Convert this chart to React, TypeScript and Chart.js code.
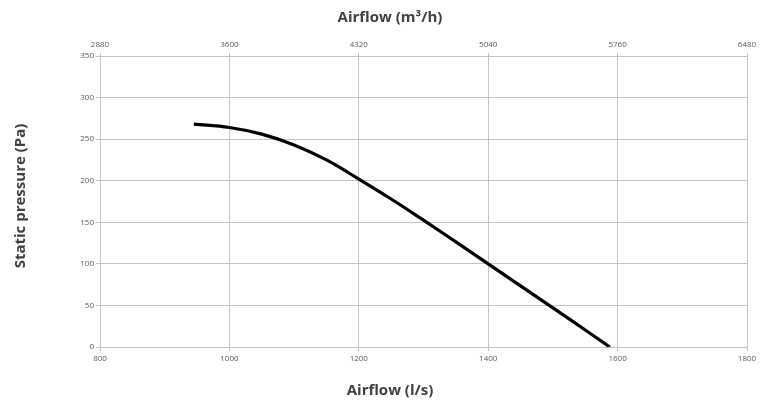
import React, { useEffect, useRef } from "react";
import { Chart, registerables } from "chart.js";

Chart.register(...registerables);

const airflowLs: number[] = [945, 1000, 1050, 1100, 1150, 1200, 1250, 1300, 1350, 1400, 1450, 1500, 1550, 1588];
const pressurePa: number[] = [268, 264, 256, 243, 225, 202, 178, 152.5, 126.5, 100, 73.5, 47, 20.5, 0];

const xMin = 800;
const xMax = 1800;
const xStep = 200;
const yMin = 0;
const yMax = 350;
const yStep = 50;
const m3hFactor = 3.6;

const bottomTitle = "Airflow (l/s)";
const topTitle = "Airflow (m³/h)";
const leftTitle = "Static pressure (Pa)";

const gridColor = "#c4c4c4";
const tickColor = "#595959";
const titleColor = "#404040";
const fontFamily = "'Open Sans', 'Liberation Sans', sans-serif";

const titlePlugin = {
  id: "axisTitles",
  afterDraw(chart: any) {
    const ctx = chart.ctx;
    ctx.save();
    ctx.fillStyle = titleColor;
    ctx.font = `bold 15px ${fontFamily}`;
    ctx.textAlign = "center";
    ctx.textBaseline = "middle";
    ctx.fillText(topTitle, 390, 18);
    ctx.fillText(bottomTitle, 390, 391);
    ctx.translate(21, 196);
    ctx.rotate(-Math.PI / 2);
    ctx.fillText(leftTitle, 0, 0);
    ctx.restore();
  },
};

export default function App() {
  const canvasRef = useRef<HTMLCanvasElement | null>(null);

  useEffect(() => {
    document.body.style.margin = "0";
    const canvas = canvasRef.current;
    if (!canvas) return;
    const points = airflowLs.map((x, i) => ({ x, y: pressurePa[i] }));
    const tickFont = { family: fontFamily, size: 8 };

    const chart = new Chart(canvas, {
      type: "line",
      data: {
        datasets: [
          {
            data: points,
            borderColor: "#000000",
            borderWidth: 3.2,
            pointRadius: 0,
            tension: 0.4,
            fill: false,
            xAxisID: "x",
            yAxisID: "y",
          },
        ],
      },
      options: {
        animation: false,
        responsive: false,
        maintainAspectRatio: false,
        layout: { padding: { left: 0, right: 20, top: 0, bottom: 0 } },
        plugins: {
          legend: { display: false },
          tooltip: { enabled: false },
        },
        scales: {
          x: {
            type: "linear",
            position: "bottom",
            min: xMin,
            max: xMax,
            ticks: {
              stepSize: xStep,
              color: tickColor,
              font: tickFont,
              padding: 3,
              maxRotation: 0,
              callback: (v: any) => String(v),
            },
            grid: { color: gridColor, lineWidth: 1, tickLength: 4 },
            border: { color: gridColor },
            afterFit: (s: any) => {
              s.height = 54;
            },
          },
          x2: {
            type: "linear",
            position: "top",
            min: xMin,
            max: xMax,
            ticks: {
              stepSize: xStep,
              color: tickColor,
              font: tickFont,
              padding: 3,
              maxRotation: 0,
              callback: (v: any) => String(Math.round(Number(v) * m3hFactor)),
            },
            grid: { color: gridColor, lineWidth: 1, tickLength: 3, drawOnChartArea: false },
            border: { color: gridColor },
            afterFit: (s: any) => {
              s.height = 56;
            },
          },
          y: {
            type: "linear",
            position: "left",
            min: yMin,
            max: yMax,
            ticks: {
              stepSize: yStep,
              color: tickColor,
              font: tickFont,
              padding: 2,
            },
            grid: { color: gridColor, lineWidth: 1, tickLength: 4 },
            border: { color: gridColor },
            afterFit: (s: any) => {
              s.width = 100;
            },
          },
        },
      },
      plugins: [titlePlugin],
    } as any);

    return () => {
      chart.destroy();
    };
  }, []);

  return (
    <div style={{ position: "absolute", left: 0, top: 0, width: 767, height: 401, background: "#ffffff" }}>
      <canvas ref={canvasRef} width={767} height={401} style={{ width: 767, height: 401, display: "block" }} />
    </div>
  );
}
